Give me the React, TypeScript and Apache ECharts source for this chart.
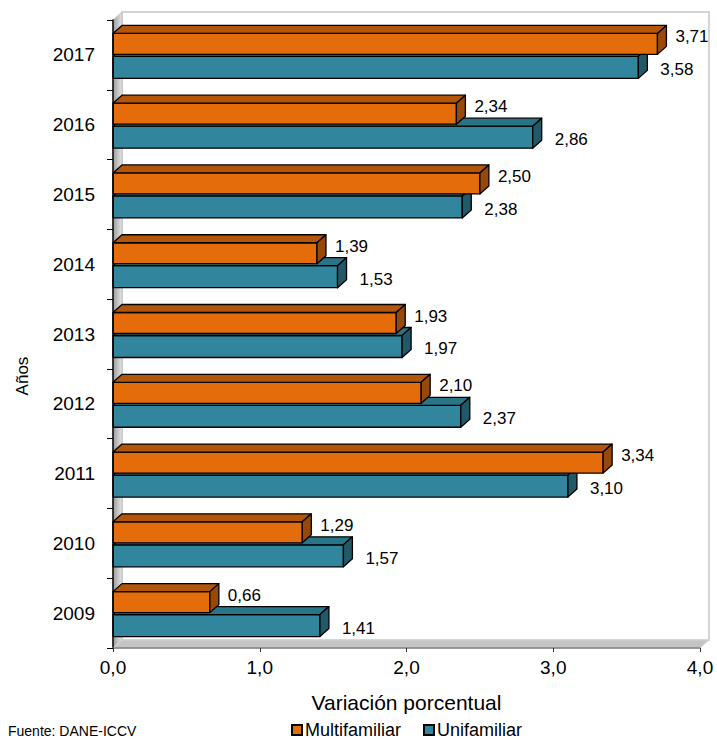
import React, { useEffect, useRef } from "react";
import * as echarts from "echarts";

const years = ["2009", "2010", "2011", "2012", "2013", "2014", "2015", "2016", "2017"];
const multifamiliar = [0.66, 1.29, 3.34, 2.1, 1.93, 1.39, 2.5, 2.34, 3.71];
const unifamiliar = [1.41, 1.57, 3.1, 2.37, 1.97, 1.53, 2.38, 2.86, 3.58];
const xMin = 0;
const xMax = 4;
const xInterval = 1;

const FONT = "'Liberation Sans', Arial, sans-serif";
const DX = 9;
const DY = -8;

const fmt = (v: number, d: number) => v.toFixed(d).replace(".", ",");

type Kind = "multi" | "uni";

const palette = {
  multi: { front: "#E46C0A", top: "#B3560A", side: "#984807" },
  uni: { front: "#31859C", top: "#2A7487", side: "#215968" },
};

function barRenderer(kind: Kind) {
  return (params: any, api: any) => {
    const v = api.value(0);
    const cat = api.value(1);
    const p0 = api.coord([0, cat]);
    const p1 = api.coord([v, cat]);
    const band = api.size([0, 1])[1];
    const k = band / 69.8;
    const cy = p0[1];
    const x0 = p0[0];
    const x1 = p1[0];
    let top: number, bottom: number, ly: number, lx: number;
    if (kind === "multi") {
      top = cy - 21.5 * k;
      bottom = cy - 0.5 * k;
      ly = cy - 18 * k;
      lx = x1 + 18;
    } else {
      top = cy + 1.5 * k;
      bottom = cy + 23.5 * k;
      ly = cy + 15 * k;
      lx = x1 + 22;
    }
    const c = palette[kind];
    const stroke = { stroke: "#000", lineWidth: 1.3, lineJoin: "round" };
    return {
      type: "group",
      children: [
        {
          type: "polygon",
          shape: { points: [[x0, top], [x1, top], [x1, bottom], [x0, bottom]] },
          style: { fill: c.front, ...stroke },
        },
        {
          type: "polygon",
          shape: { points: [[x0, top], [x0 + DX, top + DY], [x1 + DX, top + DY], [x1, top]] },
          style: { fill: c.top, ...stroke },
        },
        {
          type: "polygon",
          shape: { points: [[x1, top], [x1 + DX, top + DY], [x1 + DX, bottom + DY], [x1, bottom]] },
          style: { fill: c.side, ...stroke },
        },
        {
          type: "text",
          x: lx,
          y: ly,
          z2: 10,
          style: {
            text: fmt(v, 2),
            fill: "#000",
            fontSize: 17,
            fontFamily: FONT,
            align: "left",
            verticalAlign: "middle",
          },
        },
      ],
    };
  };
}

function wallRenderer(params: any, api: any) {
  const { x, y, width: w, height: h } = params.coordSys;
  return {
    type: "group",
    children: [
      {
        type: "rect",
        shape: { x: x + DX, y: y + DY, width: w, height: h },
        style: { fill: "#fff", stroke: "#d4d4d4", lineWidth: 2 },
      },
      {
        type: "polygon",
        shape: { points: [[x, y], [x + DX, y + DY], [x + DX, y + h + DY], [x, y + h]] },
        style: {
          fill: new echarts.graphic.LinearGradient(0, 0, 1, 0, [
            { offset: 0, color: "#9c9c9c" },
            { offset: 1, color: "#e4e4e4" },
          ]),
          stroke: "#bdbdbd",
          lineWidth: 0.8,
        },
      },
      {
        type: "polygon",
        shape: { points: [[x, y + h], [x + DX, y + h + DY], [x + w + DX, y + h + DY], [x + w, y + h]] },
        style: { fill: "#c4c4c4", stroke: "#d8d8d8", lineWidth: 0.8 },
      },
    ],
  };
}

export default function App() {
  const ref = useRef<HTMLDivElement>(null);
  useEffect(() => {
    if (!ref.current) return;
    const chart = echarts.init(ref.current, undefined, { renderer: "svg" });
    chart.setOption({
      animation: false,
      backgroundColor: "#fff",
      textStyle: { fontFamily: FONT },
      grid: { left: 113, right: 17, top: 20, bottom: 92, containLabel: false },
      legend: {
        data: ["Multifamiliar", "Unifamiliar"],
        left: 286,
        top: 716,
        icon: "rect",
        itemWidth: 10,
        itemHeight: 10,
        itemGap: 22,
        textStyle: { fontSize: 18, fontFamily: FONT, color: "#000", padding: [0, 0, 0, -2] },
        selectedMode: false,
      },
      xAxis: {
        type: "value",
        min: xMin,
        max: xMax,
        interval: xInterval,
        z: 10,
        name: "Variación porcentual",
        nameLocation: "middle",
        nameGap: 44,
        nameTextStyle: { fontSize: 21, color: "#000", fontFamily: FONT },
        axisLine: { show: true, lineStyle: { color: "#7f7f7f", width: 1.5 } },
        axisTick: { show: true, length: 4, lineStyle: { color: "#333" } },
        axisLabel: { fontSize: 19, color: "#000", margin: 10, formatter: (v: number) => fmt(v, 1) },
        splitLine: { show: false },
      },
      yAxis: {
        type: "category",
        data: years,
        z: 10,
        axisLine: { show: true, lineStyle: { color: "#000", width: 1.5 } },
        axisTick: { show: true, length: 6, lineStyle: { color: "#000" } },
        axisLabel: { fontSize: 19, color: "#000", margin: 18 },
        splitLine: { show: false },
      },
      graphic: [
        {
          type: "text",
          x: 22,
          y: 376,
          rotation: Math.PI / 2,
          style: {
            text: "Años",
            fontSize: 17,
            fill: "#000",
            fontFamily: FONT,
            align: "center",
            verticalAlign: "middle",
          },
        },
        {
          type: "text",
          left: 8,
          top: 724,
          style: { text: "Fuente: DANE-ICCV", fontSize: 14, fill: "#000", fontFamily: FONT },
        },
      ],
      series: [
        {
          type: "custom",
          name: "walls",
          silent: true,
          z: 1,
          clip: false,
          data: [[0, 0]],
          encode: { x: 0, y: 1 },
          renderItem: wallRenderer,
        },
        {
          type: "custom",
          name: "Unifamiliar",
          z: 3,
          clip: false,
          itemStyle: { color: palette.uni.front, borderColor: "#000", borderWidth: 1.5 },
          data: unifamiliar.map((v, i) => [v, i]),
          encode: { x: 0, y: 1 },
          renderItem: barRenderer("uni"),
        },
        {
          type: "custom",
          name: "Multifamiliar",
          z: 4,
          clip: false,
          itemStyle: { color: palette.multi.front, borderColor: "#000", borderWidth: 1.5 },
          data: multifamiliar.map((v, i) => [v, i]),
          encode: { x: 0, y: 1 },
          renderItem: barRenderer("multi"),
        },
      ],
    });
    return () => chart.dispose();
  }, []);
  return <div ref={ref} style={{ width: 717, height: 740, position: "absolute", left: 0, top: 0 }} />;
}
